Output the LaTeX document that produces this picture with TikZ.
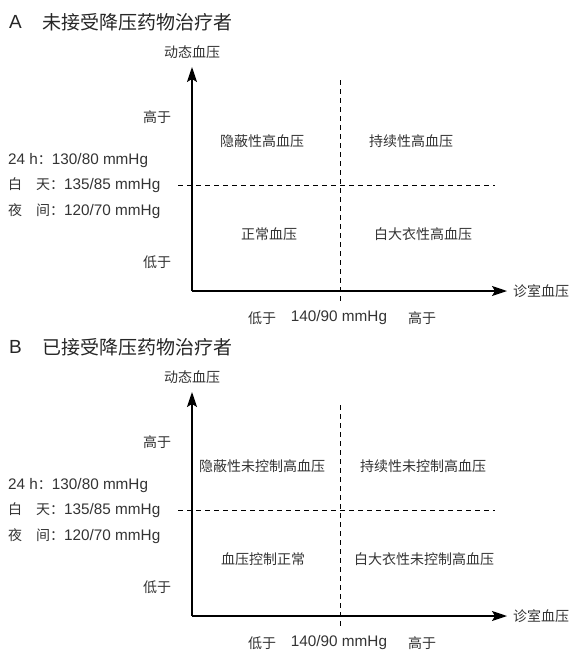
\documentclass[tikz,border=0pt]{standalone}
\usepackage{fontspec}
\setmainfont{Noto Sans CJK SC}
\newfontfamily\latfont{Liberation Sans}
\newcommand{\chiffres}[1]{{\latfont\fontsize{15.3}{18}\selectfont #1}}
\usetikzlibrary{arrows.meta}

\begin{document}
\begin{tikzpicture}[x=1pt,y=-1pt,
    txt/.style={text=black!80, font=\fontsize{14}{16}\selectfont, inner sep=0pt},
    titre/.style={text=black!85, font=\fontsize{19}{22}\selectfont, anchor=west, inner sep=0pt},
    axe/.style={line width=1.3pt, -{Stealth[length=15pt,width=10pt,inset=3pt]}},
    seuil/.style={line width=0.9pt, dash pattern=on 5pt off 4pt}]
  \useasboundingbox (0,0) rectangle (583,665);

  % Les deux cadres (A en haut, B decale de 325)
  \foreach \dy/\p in {0/A, 325/B} {%
    \node[titre] (lettre\p) at (9,22+\dy) {\latfont\p};
    \coordinate (o\p) at (192,291+\dy);
    \coordinate (haut\p) at (192,67+\dy);
    \coordinate (droite\p) at (507,291+\dy);
    \draw[axe] (o\p) -- (haut\p);
    \draw[axe] (o\p) -- (droite\p);
    \node[txt] (ord\p) at (192,52+\dy) {动态血压};
    \node[txt, anchor=west] (abs\p) at (513,291+\dy) {诊室血压};
    % seuils
    \coordinate (vh\p) at (340,80+\dy);
    \coordinate (vb\p) at (340,303+\dy);
    \coordinate (hg\p) at (178,185+\dy);
    \coordinate (hd\p) at (495,185+\dy);
    \draw[seuil] (vh\p) -- (vb\p);
    \draw[seuil] (hg\p) -- (hd\p);
    % valeurs a gauche
    \node[txt, anchor=west] (h24\p) at (8,161+\dy) {\chiffres{24 h}：\chiffres{130/80 mmHg}};
    \node[txt, anchor=west] (jour\p) at (8,185+\dy) {白　天：\chiffres{135/85 mmHg}};
    \node[txt, anchor=west] (nuit\p) at (8,211+\dy) {夜　间：\chiffres{120/70 mmHg}};
    \node[txt] (ysup\p) at (157,117+\dy) {高于};
    \node[txt] (yinf\p) at (157,262+\dy) {低于};
    % valeurs en bas
    \node[txt] (xinf\p) at (262,318+\dy) {低于};
    \node[txt] (xval\p) at (339,318+\dy) {\chiffres{140/90 mmHg}};
    \node[txt] (xsup\p) at (422,318+\dy) {高于};
  }

  \node[titre] (titreA) at (42,22) {未接受降压药物治疗者};
  \node[txt] (masqueA) at (262,141) {隐蔽性高血压};
  \node[txt] (soutenuA) at (411,141) {持续性高血压};
  \node[txt] (normalA) at (269,234) {正常血压};
  \node[txt] (blouseA) at (423,234) {白大衣性高血压};

  \node[titre] (titreB) at (42,347) {已接受降压药物治疗者};
  \node[txt] (masqueB) at (262,466) {隐蔽性未控制高血压};
  \node[txt] (soutenuB) at (423,466) {持续性未控制高血压};
  \node[txt] (normalB) at (263,559) {血压控制正常};
  \node[txt] (blouseB) at (424,559) {白大衣性未控制高血压};
\end{tikzpicture}
\end{document}
